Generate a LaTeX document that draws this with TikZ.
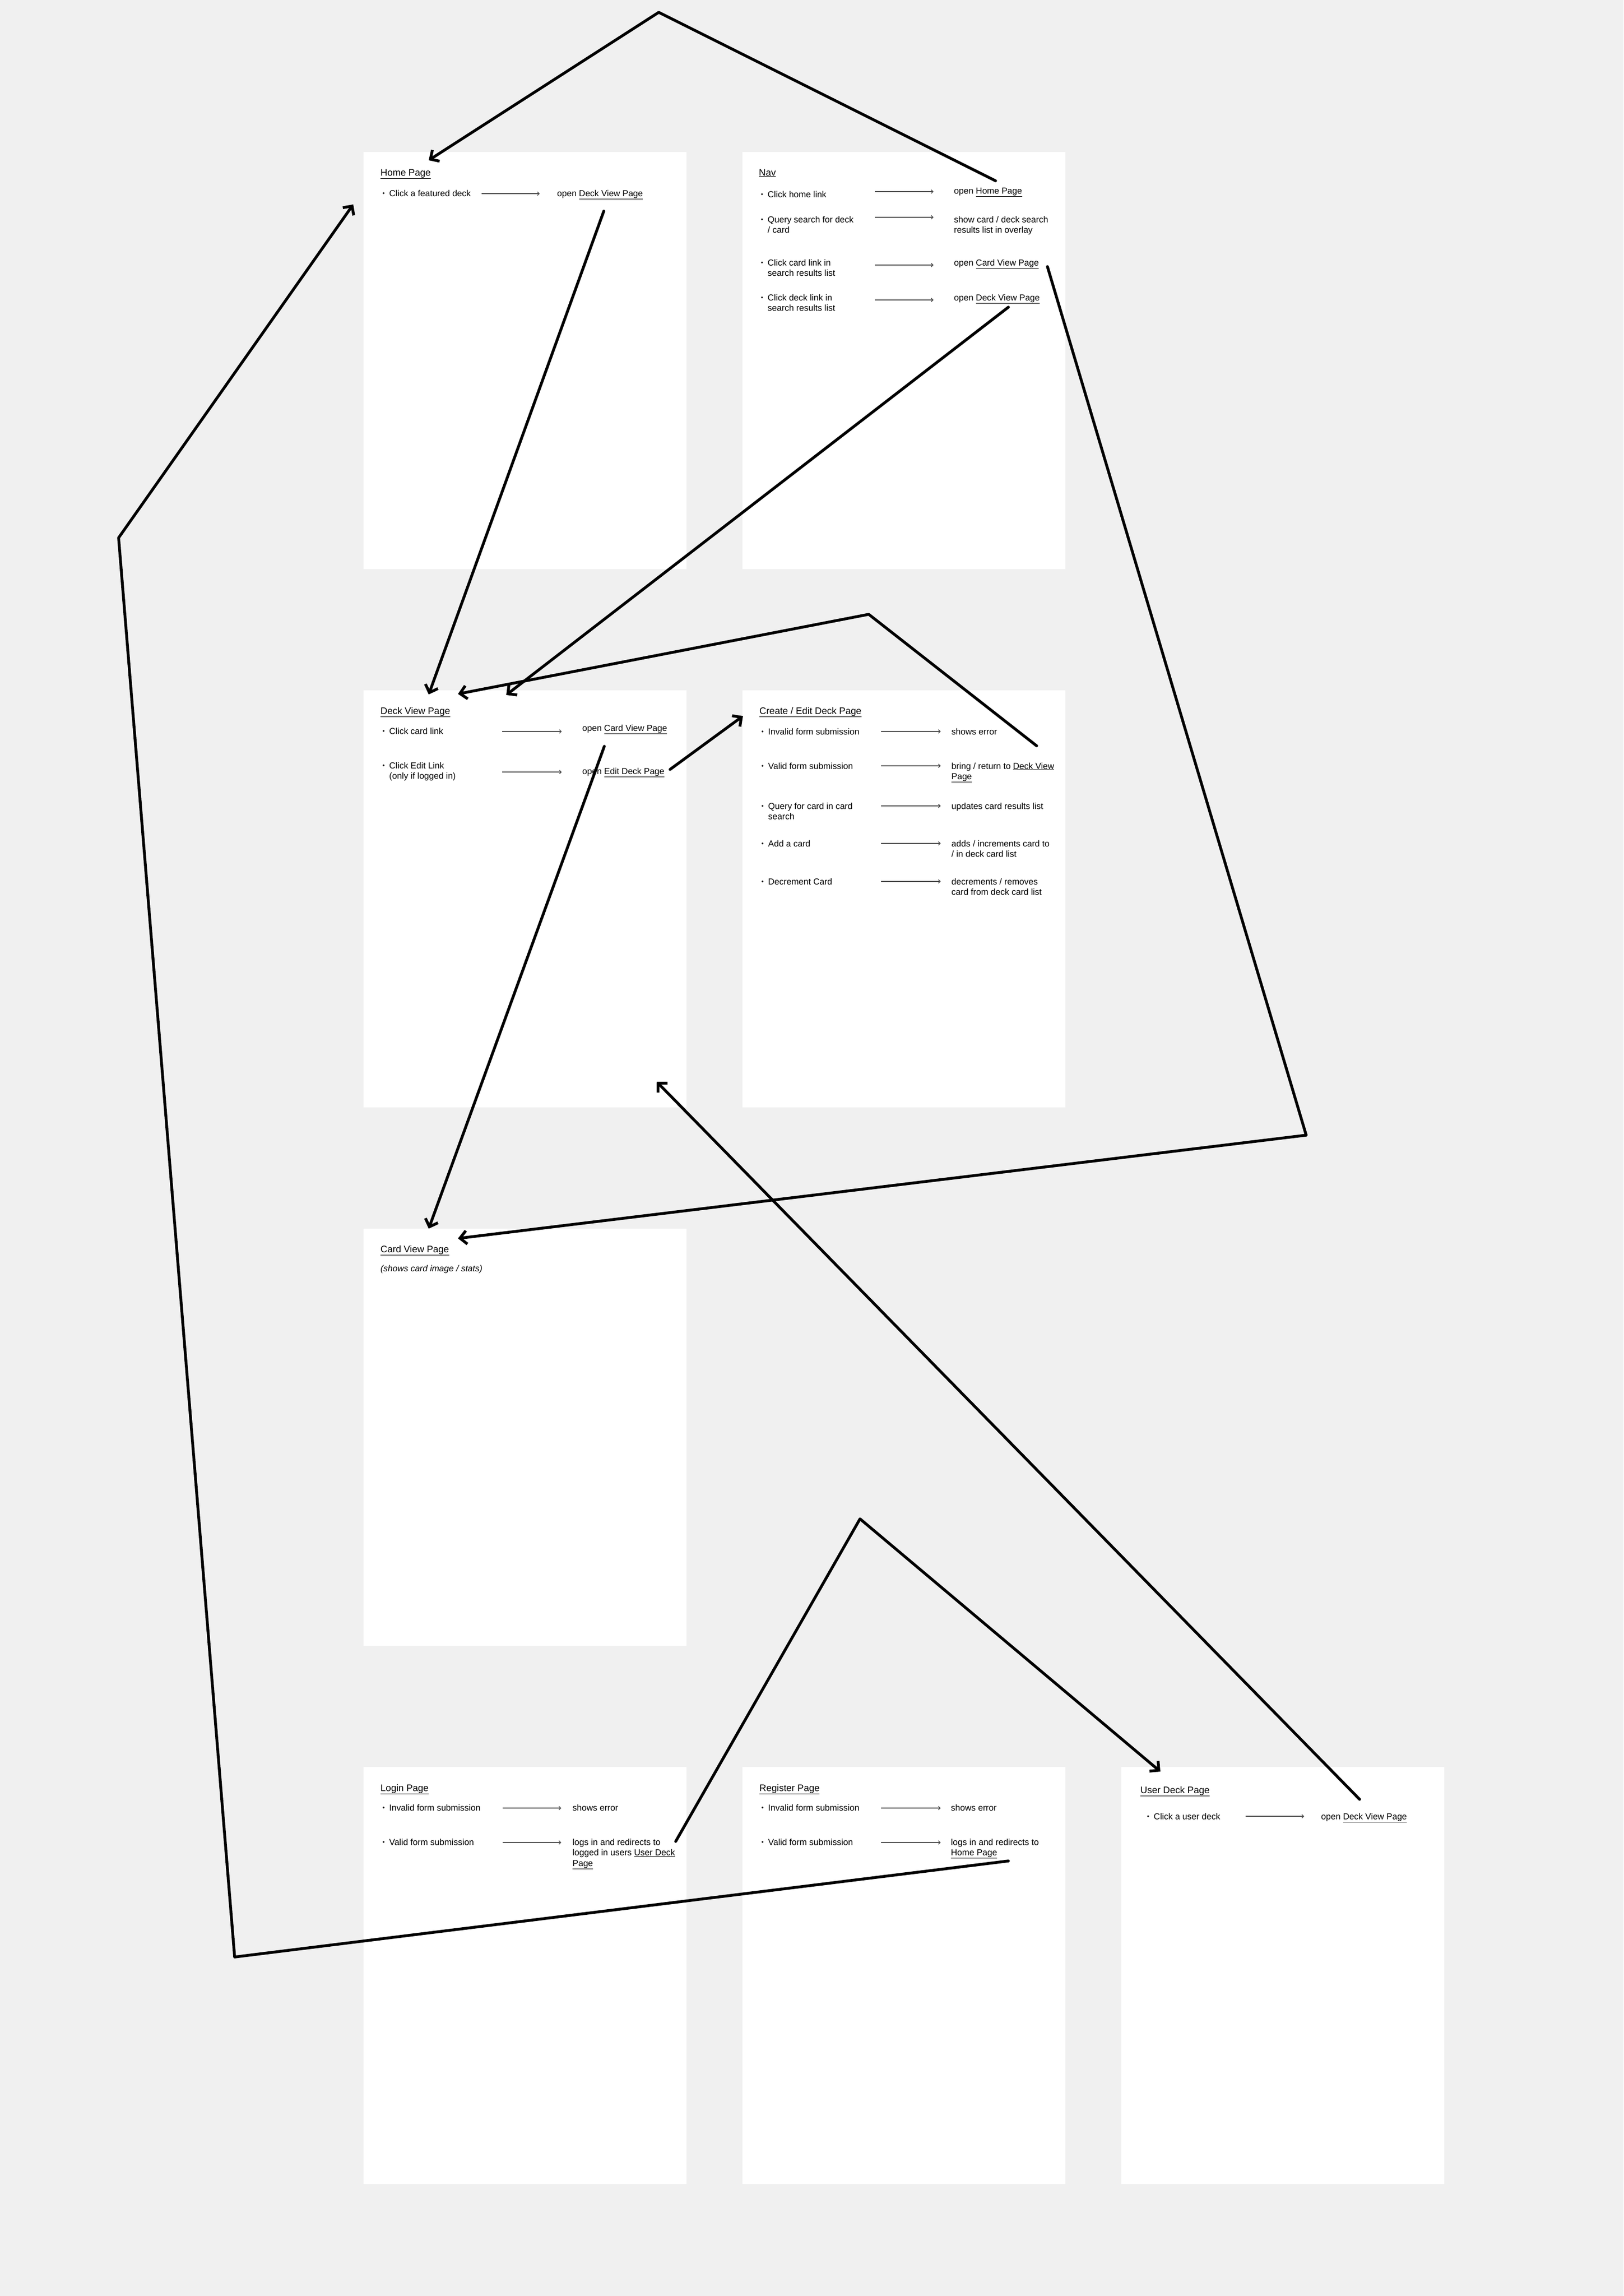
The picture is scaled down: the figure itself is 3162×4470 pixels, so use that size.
\documentclass[tikz,border=0pt]{standalone}
\usepackage{fontspec}
\setmainfont{Liberation Sans}
\usetikzlibrary{arrows.meta}
\definecolor{canvas}{RGB}{240,240,240}
\newcommand{\pglink}[1]{\underline{#1}}
\newcommand{\bul}{\llap{\raisebox{2pt}{\fontsize{12}{12}\selectfont\textbullet}\hspace{9pt}}}
\newcommand{\stackl}[1]{\begin{tabular}[t]{@{}l@{}}#1\end{tabular}}

\begin{document}
\begin{tikzpicture}[x=1pt, y=-1pt,
  pagebox/.style={fill=white, anchor=north west, inner sep=0pt, minimum width=629pt, minimum height=812pt},
  ttl/.style={anchor=base west, inner sep=0pt, font=\fontsize{18.5}{22}\selectfont},
  entry/.style={anchor=base west, inner sep=0pt, font=\fontsize{17}{20.5}\selectfont},
  leadsto/.style={draw=black!70, line width=1.3pt, -{Straight Barb[length=3.5pt,width=7pt]}},
  jump/.style={line width=5.5pt, line cap=round, line join=round, -{Straight Barb[length=13pt,width=26pt]}}]
      \fill[canvas] (0,0) rectangle (3162,4470);
      \useasboundingbox (0,0) rectangle (3162,4470);

      % pages
      \node[pagebox] (home)  at (708,296)   {};
      \node[pagebox] (nav)   at (1446,296)  {};
      \node[pagebox] (deck)  at (708,1344)  {};
      \node[pagebox] (edit)  at (1446,1344) {};
      \node[pagebox] (card)  at (708,2392)  {};
      \node[pagebox] (login) at (708,3440)  {};
      \node[pagebox] (reg)   at (1446,3440) {};
      \node[pagebox] (user)  at (2184,3440) {};

      % home page
      \node[ttl]   (home-t)  at (741,342)  {\pglink{Home Page}};
      \node[entry] (home-i1) at (758,382)  {\bul Click a featured deck};
      \node[entry] (home-o1) at (1085,382) {open \pglink{Deck View Page}};

      % nav
      \node[ttl]   (nav-t)  at (1478,342)  {\pglink{Nav}};
      \node[entry] (nav-i1) at (1495,384)  {\bul Click home link};
      \node[entry] (nav-o1) at (1858,377)  {open \pglink{Home Page}};
      \node[entry] (nav-i2) at (1495,433)  {\stackl{\bul Query search for deck\\/ card}};
      \node[entry] (nav-o2) at (1858,433)  {\stackl{show card / deck search\\results list in overlay}};
      \node[entry] (nav-i3) at (1495,517)  {\stackl{\bul Click card link in\\search results list}};
      \node[entry] (nav-o3) at (1858,517)  {open \pglink{Card View Page}};
      \node[entry] (nav-i4) at (1495,585)  {\stackl{\bul Click deck link in\\search results list}};
      \node[entry] (nav-o4) at (1858,585)  {open \pglink{Deck View Page}};

      % deck view page
      \node[ttl]   (deck-t)  at (741,1390)  {\pglink{Deck View Page}};
      \node[entry] (deck-i1) at (758,1429)  {\bul Click card link};
      \node[entry] (deck-o1) at (1134,1423) {open \pglink{Card View Page}};
      \node[entry] (deck-i2) at (758,1496)  {\stackl{\bul Click Edit Link\\(only if logged in)}};
      \node[entry] (deck-o2) at (1134,1507) {open \pglink{Edit Deck Page}};

      % create / edit deck page
      \node[ttl]   (edit-t)  at (1479,1390) {\pglink{Create / Edit Deck Page}};
      \node[entry] (edit-i1) at (1496,1430) {\bul Invalid form submission};
      \node[entry] (edit-o1) at (1853,1430) {shows error};
      \node[entry] (edit-i2) at (1496,1497) {\bul Valid form submission};
      \node[entry] (edit-o2) at (1853,1497) {\stackl{bring / return to \pglink{Deck View}\\\pglink{Page}}};
      \node[entry] (edit-i3) at (1496,1575) {\stackl{\bul Query for card in card\\search}};
      \node[entry] (edit-o3) at (1853,1575) {updates card results list};
      \node[entry] (edit-i4) at (1496,1648) {\bul Add a card};
      \node[entry] (edit-o4) at (1853,1648) {\stackl{adds / increments card to\\/ in deck card list}};
      \node[entry] (edit-i5) at (1496,1722) {\bul Decrement Card};
      \node[entry] (edit-o5) at (1853,1722) {\stackl{decrements / removes\\card from deck card list}};

      % card view page
      \node[ttl]   (card-t)  at (741,2438) {\pglink{Card View Page}};
      \node[entry] (card-i1) at (741,2475) {\itshape (shows card image / stats)};

      % login page
      \node[ttl]   (login-t)  at (741,3487)  {\pglink{Login Page}};
      \node[entry] (login-i1) at (758,3525)  {\bul Invalid form submission};
      \node[entry] (login-o1) at (1115,3525) {shows error};
      \node[entry] (login-i2) at (758,3592)  {\bul Valid form submission};
      \node[entry] (login-o2) at (1115,3592) {\stackl{logs in and redirects to\\logged in users \pglink{User Deck}\\\pglink{Page}}};

      % register page
      \node[ttl]   (reg-t)  at (1479,3487) {\pglink{Register Page}};
      \node[entry] (reg-i1) at (1496,3525) {\bul Invalid form submission};
      \node[entry] (reg-o1) at (1852,3525) {shows error};
      \node[entry] (reg-i2) at (1496,3592) {\bul Valid form submission};
      \node[entry] (reg-o2) at (1852,3592) {\stackl{logs in and redirects to\\\pglink{Home Page}}};

      % user deck page
      \node[ttl]   (user-t)  at (2221,3491) {\pglink{User Deck Page}};
      \node[entry] (user-i1) at (2247,3542) {\bul Click a user deck};
      \node[entry] (user-o1) at (2573,3542) {open \pglink{Deck View Page}};

      % small arrows
      \coordinate (home-a)  at (938,0);
      \coordinate (nav-a)   at (1704,0);
      \coordinate (deck-a)  at (978,0);
      \coordinate (edit-a)  at (1716,0);
      \coordinate (login-a) at (979,0);
      \coordinate (reg-a)   at (1716,0);
      \coordinate (user-a)  at (2426,0);
      \draw[leadsto] ([yshift=5pt]home-a |- home-i1.base) -- ++(113,0);
      \draw[leadsto] ([yshift=4pt]nav-a |- nav-o1.base) -- ++(114,0);
      \draw[leadsto] ([yshift=10pt]nav-a |- nav-o2.base) -- ++(114,0);
      \draw[leadsto] ([yshift=1pt]nav-a |- nav-o3.base) -- ++(114,0);
      \draw[leadsto] ([yshift=1pt]nav-a |- nav-o4.base) -- ++(114,0);
      \draw[leadsto] ([yshift=5pt]deck-a |- deck-i1.base) -- ++(116,0);
      \draw[leadsto] ([yshift=4pt]deck-a |- deck-o2.base) -- ++(116,0);
      \foreach \k in {1,...,5}
        \draw[leadsto] ([yshift=6pt]edit-a |- edit-i\k.base) -- ++(116,0);
      \foreach \k in {1,2} {
        \draw[leadsto] ([yshift=5pt]login-a |- login-i\k.base) -- ++(114,0);
        \draw[leadsto] ([yshift=5pt]reg-a |- reg-i\k.base) -- ++(116,0);
      }
      \draw[leadsto] ([yshift=6pt]user-a |- user-i1.base) -- ++(114,0);

      % connector points
      \coordinate (nav-h)     at (1939,352);
      \coordinate (peak)      at (1283,24);
      \coordinate (home-in)   at (835,312);
      \coordinate (home-dv)   at (1176,411);
      \coordinate (deck-in1)  at (835,1352);
      \coordinate (nav-dv)    at (1964,598);
      \coordinate (deck-in3)  at (986,1353);
      \coordinate (nav-cv)    at (2040,519);
      \coordinate (east)      at (2544,2210);
      \coordinate (card-in2)  at (892,2411);
      \coordinate (edit-dv)   at (2019,1452);
      \coordinate (mid)       at (1692,1196);
      \coordinate (deck-in2)  at (892,1351);
      \coordinate (deck-ed)   at (1305,1498);
      \coordinate (edit-in)   at (1447,1394);
      \coordinate (deck-cv)   at (1177,1453);
      \coordinate (card-in1)  at (835,2392);
      \coordinate (login-ud)  at (1316,3585);
      \coordinate (low)       at (1675,2957);
      \coordinate (user-in)   at (2260,3449);
      \coordinate (user-dv)   at (2648,3503);
      \coordinate (deck-low)  at (1279,2106);
      \coordinate (reg-hp)    at (1964,3623);
      \coordinate (sw)        at (457,3810);
      \coordinate (west)      at (231,1047);
      \coordinate (home-side) at (688,398);

      % connectors
      \draw[jump] (nav-h) -- (peak) -- (home-in);
      \draw[jump] (home-dv) -- (deck-in1);
      \draw[jump] (nav-dv) -- (deck-in3);
      \draw[jump] (nav-cv) -- (east) -- (card-in2);
      \draw[jump] (edit-dv) -- (mid) -- (deck-in2);
      \draw[jump] (deck-ed) -- (edit-in);
      \draw[jump] (deck-cv) -- (card-in1);
      \draw[jump] (login-ud) -- (low) -- (user-in);
      \draw[jump] (user-dv) -- (deck-low);
      \draw[jump] (reg-hp) -- (sw) -- (west) -- (home-side);
    \end{tikzpicture}
\end{document}
